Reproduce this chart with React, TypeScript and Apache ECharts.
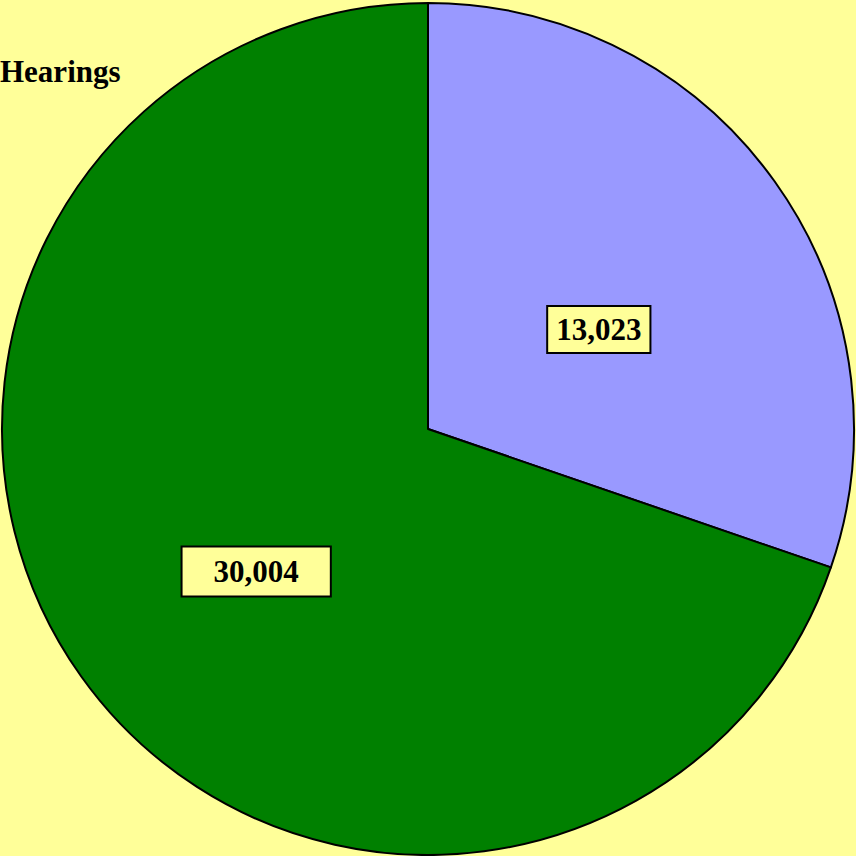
import React, { useEffect, useRef } from "react";
import * as echarts from "echarts";

const categories = ["Blue", "Green"];
const values = [13023, 30004];
const colors = ["#9999FF", "#008000"];
const titleText = "Hearings";

export default function App() {
  const ref = useRef<HTMLDivElement>(null);
  useEffect(() => {
    document.body.style.margin = "0";
    const chart = echarts.init(ref.current!, null, { renderer: "svg" });
    const pads = [
      [8, 8, 6, 8],
      [9, 31, 8, 31],
    ];
    const shifts = [
      [-5, 26],
      [4, 17],
    ];
    chart.setOption({
      animation: false,
      backgroundColor: "#FFFF99",
      title: {
        text: titleText,
        left: 0,
        top: 56,
        padding: 0,
        textStyle: {
          fontFamily: "Liberation Serif",
          fontWeight: "bold",
          fontSize: 31,
          color: "#000",
        },
      },
      series: [
        {
          type: "pie",
          center: [428, 429],
          radius: [0, 426],
          startAngle: 90,
          clockwise: true,
          avoidLabelOverlap: false,
          labelLine: { show: false },
          itemStyle: { borderColor: "#000", borderWidth: 2 },
          emphasis: { disabled: true },
          labelLayout: (p: any) => ({ dx: shifts[p.dataIndex][0], dy: shifts[p.dataIndex][1] }),
          data: categories.map((c, i) => ({
            name: c,
            value: values[i],
            itemStyle: { color: colors[i] },
            label: { padding: pads[i] },
          })),
          label: {
            show: true,
            position: "inside",
            formatter: (p: any) => p.value.toLocaleString("en-US"),
            fontFamily: "Liberation Serif",
            fontWeight: "bold",
            fontSize: 31,
            color: "#000",
            backgroundColor: "#FFFF99",
            borderColor: "#000",
            borderWidth: 2,
          },
        },
      ],
    });
    return () => chart.dispose();
  }, []);
  return (
    <div
      ref={ref}
      style={{ position: "fixed", left: 0, top: 0, width: 856, height: 856 }}
    />
  );
}
